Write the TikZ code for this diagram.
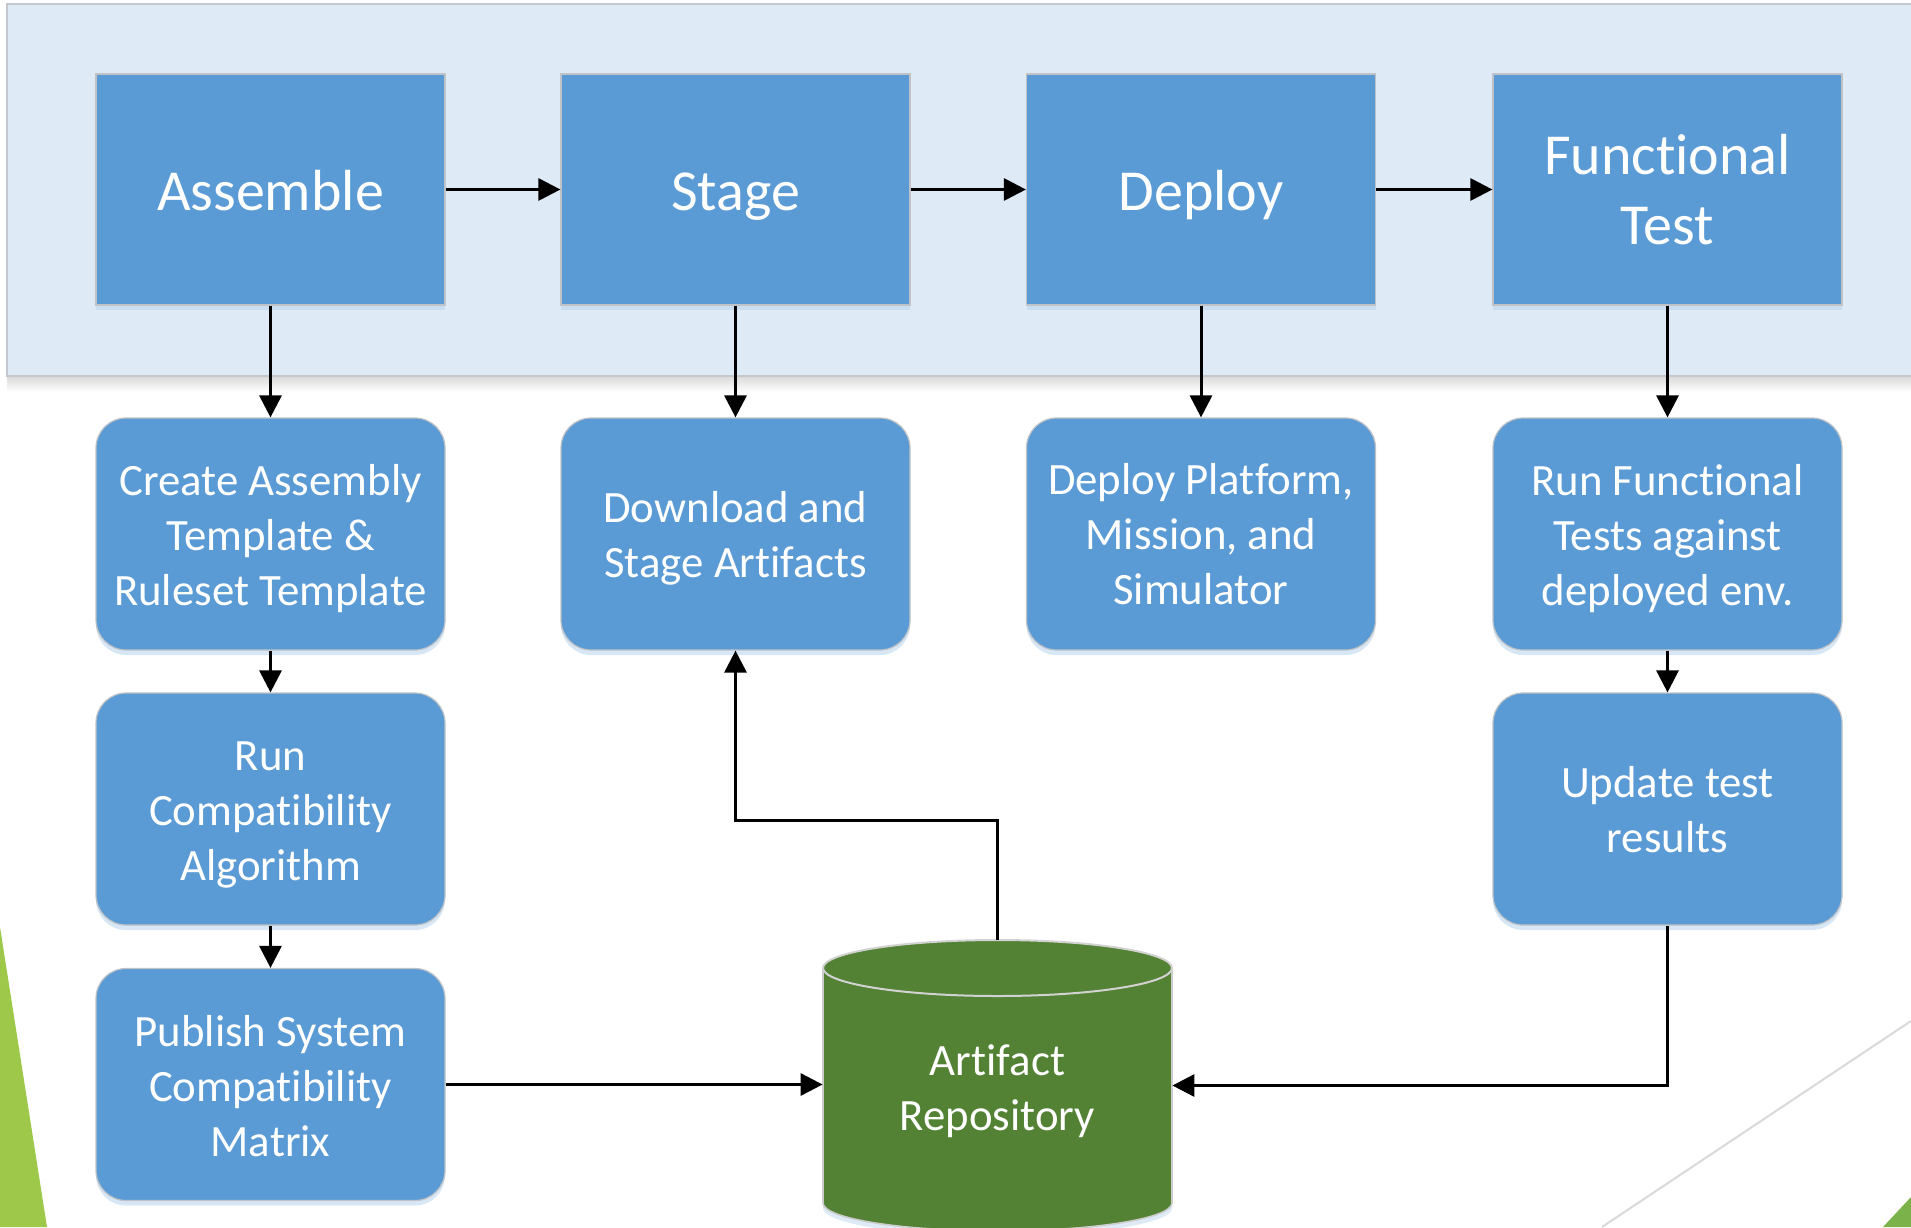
\documentclass[tikz,border=0pt]{standalone}
\usepackage{fontspec}
\setmainfont{Carlito}[Ligatures={NoCommon,NoContextual}]
\usetikzlibrary{arrows.meta,shadows}
\definecolor{boxblue}{HTML}{5B9BD5}
\definecolor{panelblue}{HTML}{DEEAF6}
\definecolor{panelborder}{HTML}{C4C8CC}
\definecolor{boxborder}{HTML}{BFC3C7}
\definecolor{repogreen}{HTML}{548235}
\definecolor{leafgreen}{HTML}{9DC84A}
\definecolor{leafgreen2}{HTML}{7CB24A}
\definecolor{shadowblue}{HTML}{BDD7EE}
% place lines so that the first baseline sits #1 above the node centre
\newcommand\placetext[2]{\raisebox{#1}[0pt][0pt]{\begin{tabular}[t]{@{}c@{}}#2\end{tabular}}}
\begin{document}
\begin{tikzpicture}[x=0.5pt,y=-0.5pt,
  stagebox/.style={draw=boxborder, line width=0.6pt, fill=boxblue, text=white,
    minimum width=174.5pt, minimum height=115.5pt, inner sep=0pt,
    font=\fontsize{29}{35}\selectfont,
    drop shadow={shadow xshift=0pt, shadow yshift=-2.5pt, fill=shadowblue, opacity=0.6}},
  taskbox/.style={stagebox, rounded corners=15pt, minimum height=116pt,
    font=\fontsize{22.4}{27.5}\selectfont},
  repolabel/.style={minimum width=174.5pt, minimum height=145pt, inner sep=0pt,
    text=white, font=\fontsize{22.4}{27.5}\selectfont},
  conn/.style={line width=1.5pt, -{Triangle[length=11pt,width=11pt]}}]
\useasboundingbox (0,0) rectangle (1911,1227);
\clip (0,0) rectangle (1911,1227);
% background decorations
\fill[leafgreen] (0,927) -- (47,1227) -- (0,1227) -- cycle;
\draw[gray!30, line width=1pt] (1911,1021) -- (1602,1227);
\fill[leafgreen2] (1911,1197) -- (1883,1227) -- (1911,1227) -- cycle;
% panel
\shade[top color=gray!30, bottom color=white] (7,376) rectangle (1920,392);
\filldraw[fill=panelblue, draw=panelborder, line width=1pt] (7,4) rectangle (1925,376);
% top stage boxes
\node[stagebox] (asm) at (270.5,189.5) {\placetext{-10.3pt}{Assemble}};
\node[stagebox] (stg) at (735.5,189.5) {\placetext{-10.3pt}{Stage}};
\node[stagebox] (dep) at (1201,189.5) {\placetext{-10.3pt}{Deploy}};
\node[stagebox] (fnt) at (1667.5,189.5) {\placetext{7.6pt}{Functional\\Test}};
% task boxes
\node[taskbox] (asmA) at (270.5,534) {\placetext{19.5pt}{Create Assembly\\Template \&\\Ruleset Template}};
\node[taskbox] (asmB) at (270.5,809) {\placetext{19.2pt}{Run\\Compatibility\\Algorithm}};
\node[taskbox] (asmC) at (270.5,1084.5) {\placetext{19.2pt}{Publish System\\Compatibility\\Matrix}};
\node[taskbox] (stgA) at (735.5,534) {\placetext{6pt}{Download and\\Stage Artifacts}};
\node[taskbox] (depA) at (1201,534) {\placetext{20pt}{Deploy Platform,\\Mission, and\\Simulator}};
\node[taskbox] (fntA) at (1667.5,534) {\placetext{19.5pt}{Run Functional\\Tests against\\deployed env.}};
\node[taskbox] (fntB) at (1667.5,809) {\placetext{6pt}{Update test\\results}};
% repository cylinder
\fill[shadowblue, opacity=0.5] (823,972) -- (823,1208) arc[start angle=180, end angle=0, x radius=174.5, y radius=28] -- (1172,972) -- cycle;
\filldraw[fill=repogreen, draw=gray!40, line width=0.8pt] (823,968) -- (823,1203) arc[start angle=180, end angle=0, x radius=174.5, y radius=28] -- (1172,968) -- cycle;
\filldraw[fill=repogreen, draw=gray!35, line width=1pt] (997.5,968) ellipse[x radius=174.5, y radius=28];
\node[repolabel] (repo) at (997.5,1085.5) {\placetext{5pt}{Artifact\\Repository}};
% connectors
\draw[conn] (asm) -- (stg);
\draw[conn] (stg) -- (dep);
\draw[conn] (dep) -- (fnt);
\draw[conn] (asm) -- (asmA);
\draw[conn] (stg) -- (stgA);
\draw[conn] (dep) -- (depA);
\draw[conn] (fnt) -- (fntA);
\draw[conn] (asmA) -- (asmB);
\draw[conn] (asmB) -- (asmC);
\draw[conn] (fntA) -- (fntB);
\draw[conn] (asmC.east) -- (asmC.east -| repo.west);
\draw[conn] (fntB.south) |- (repo.east);
\draw[conn] (repo.north) -- ++(0,-120) -| (stgA.south);
\end{tikzpicture}
\end{document}
